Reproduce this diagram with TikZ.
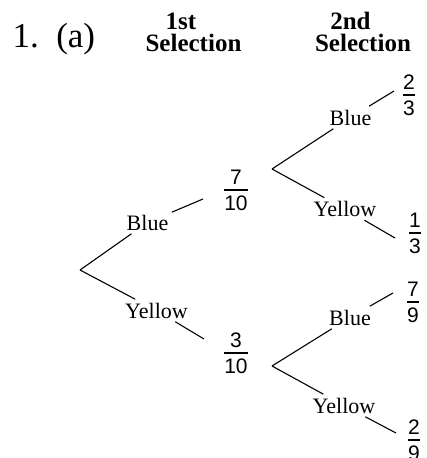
\documentclass[tikz,border=0pt]{standalone}
\usepackage{fontspec}
\setmainfont{Liberation Serif}
\newfontfamily\fracfont{Liberation Sans}

\setlength{\arrayrulewidth}{1.4pt}
% stacked fraction: numerator, bar, denominator
\newcommand{\prob}[2]{{\renewcommand{\arraystretch}{0.5}%
  \begin{tabular}{@{}c@{}}\rule[-5pt]{0pt}{15pt}#1\\\hline\rule{0pt}{20pt}#2\end{tabular}}}

\begin{document}
\begin{tikzpicture}[
    x=1pt, y=-1pt,
    head/.style={font=\fontsize{25}{28}\selectfont\bfseries, inner sep=0pt, anchor=base},
    choice/.style={font=\fontsize{22}{26}\selectfont, inner sep=3pt, anchor=base},
    prob/.style={font=\fontsize{21}{25}\selectfont\fracfont, inner sep=0pt},
    line width=1.1pt
  ]
  \useasboundingbox (0,0) rectangle (427,458);

  % --- Headings ---
  \node[anchor=base west, inner sep=0pt, font=\fontsize{35}{40}\selectfont] (q) at (12,47) {1.\enspace(a)};
  \node[head] (h1) at (181,29) {1st};
  \node[head] (s1) at (193.5,51) {Selection};
  \node[head] (h2) at (350.5,29) {2nd};
  \node[head] (s2) at (363,51) {Selection};

  % --- First selection ---
  \coordinate (r) at (80,270);
  \node[choice] (b1) at (147.5,230) {Blue};
  \node[choice] (y1) at (156.5,318) {Yellow};
  \coordinate (t1) at (203,199);
  \coordinate (t2) at (204,339);
  \node[prob] (p1) at (236,192) {\prob{7}{10}};
  \node[prob] (p2) at (236,355) {\prob{3}{10}};

  \draw (r) -- (b1) -- (t1);
  \draw (r) -- (y1) -- (t2);

  % --- Second selection after Blue ---
  \coordinate (v1) at (272,169);
  \node[choice] (b2) at (350.5,125) {Blue};
  \node[choice] (y2) at (345,216.5) {Yellow};
  \coordinate (t3) at (394,91);
  \coordinate (t4) at (395,238);
  \node[prob] (p3) at (409,97) {\prob{2}{3}};
  \node[prob] (p4) at (415,235) {\prob{1}{3}};

  \draw (v1) -- (b2) -- (t3);
  \draw (v1) -- (y2) -- (t4);

  % --- Second selection after Yellow ---
  \coordinate (v2) at (272,366);
  \node[choice] (b3) at (350,325) {Blue};
  \node[choice] (y3) at (344,413) {Yellow};
  \coordinate (t5) at (393,293);
  \coordinate (t6) at (396,433);
  \node[prob] (p5) at (413,304) {\prob{7}{9}};
  \node[prob] (p6) at (414,442) {\prob{2}{9}};

  \draw (v2) -- (b3) -- (t5);
  \draw (v2) -- (y3) -- (t6);
\end{tikzpicture}
\end{document}
